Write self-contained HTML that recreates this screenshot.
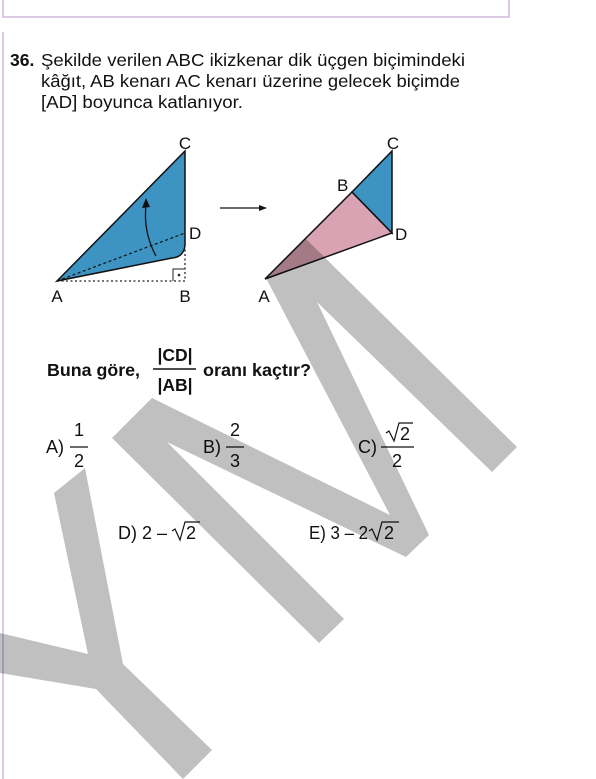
<!DOCTYPE html>
<html><head><meta charset="utf-8"><style>
html,body{margin:0;padding:0;background:#fff;}
body{width:596px;height:779px;overflow:hidden;position:relative;font-family:"Liberation Sans",sans-serif;}
svg{position:absolute;left:0;top:0;display:block;}
text{font-family:"Liberation Sans",sans-serif;fill:#111;}
</style></head><body>
<svg width="596" height="779" viewBox="0 0 596 779">
  <rect x="3" y="-10" width="506" height="27" fill="none" stroke="#dccbe4" stroke-width="2"/>
  <line x1="3" y1="32" x2="3" y2="779" stroke="#dccbe4" stroke-width="2"/>

  <g font-size="17.5">
    <text x="10" y="66" font-weight="bold">36.</text>
    <text x="41" y="66" textLength="424" lengthAdjust="spacingAndGlyphs">Şekilde verilen ABC ikizkenar dik üçgen biçimindeki</text>
    <text x="41" y="87" textLength="419" lengthAdjust="spacingAndGlyphs">kâğıt, AB kenarı AC kenarı üzerine gelecek biçimde</text>
    <text x="41" y="108" textLength="202" lengthAdjust="spacingAndGlyphs">[AD] boyunca katlanıyor.</text>
  </g>

  <g>
    <polyline points="57,281 185,281 185,247" fill="none" stroke="#222" stroke-width="1.3" stroke-dasharray="2,2.5"/>
    <polyline points="173,281 173,269 185,269" fill="none" stroke="#222" stroke-width="1"/>
    <circle cx="179" cy="275" r="1.3" fill="#222"/>
    <polygon points="57,281 163,256 172,258" fill="#d9a3b3" stroke="#111" stroke-width="1"/>
    <path d="M57,281 L185,151 L185,245 Q184,257 172,258 L57,281 Z" fill="#3d93c2" stroke="#111" stroke-width="1.5"/>
    <line x1="57" y1="281" x2="185" y2="233" stroke="#111" stroke-width="1.2" stroke-dasharray="3,2.5"/>
    <path d="M156,256 Q143,232 146,205" fill="none" stroke="#111" stroke-width="1.3"/>
    <polygon points="146,198 142,208 150,207" fill="#111"/>
    <text x="185" y="149" font-size="17" text-anchor="middle">C</text>
    <text x="189" y="239" font-size="17">D</text>
    <text x="57" y="302" font-size="17" text-anchor="middle">A</text>
    <text x="185" y="302" font-size="17" text-anchor="middle">B</text>
  </g>

  <g>
    <line x1="220" y1="208" x2="262" y2="208" stroke="#111" stroke-width="1.2"/>
    <polygon points="267,208 259,205 259,211" fill="#111"/>
  </g>

  <g>
    <polygon points="265,279 352,192 392,233" fill="#d9a3b3" stroke="#111" stroke-width="1.5"/>
    <polygon points="352,192 392,151 392,233" fill="#3d93c2" stroke="#111" stroke-width="1.5"/>
    <text x="393" y="149" font-size="17" text-anchor="middle">C</text>
    <text x="337" y="191" font-size="17">B</text>
    <text x="395" y="240" font-size="17">D</text>
    <text x="264" y="302" font-size="17" text-anchor="middle">A</text>
  </g>

  <g>
    <text x="47" y="376" font-size="17.5" font-weight="bold" textLength="93" lengthAdjust="spacingAndGlyphs">Buna göre,</text>
    <text x="175" y="361" font-size="17.5" font-weight="bold" text-anchor="middle">|CD|</text>
    <line x1="153" y1="369" x2="196" y2="369" stroke="#111" stroke-width="1.5"/>
    <text x="175" y="391" font-size="17.5" font-weight="bold" text-anchor="middle">|AB|</text>
    <text x="203" y="376" font-size="17.5" font-weight="bold" textLength="108" lengthAdjust="spacingAndGlyphs">oranı kaçtır?</text>
  </g>

  <g font-size="18">
    <g>
      <text x="46" y="453">A)</text>
      <text x="79" y="436" text-anchor="middle">1</text>
      <line x1="70" y1="447" x2="88" y2="447" stroke="#111" stroke-width="1.3"/>
      <text x="79" y="467" text-anchor="middle">2</text>
    </g>
    <g>
      <text x="203" y="453">B)</text>
      <text x="235" y="436" text-anchor="middle">2</text>
      <line x1="226" y1="447" x2="244" y2="447" stroke="#111" stroke-width="1.3"/>
      <text x="235" y="467" text-anchor="middle">3</text>
    </g>
    <g>
      <text x="358" y="453">C)</text>
      <path d="M386,433 L389,431 L394,441 L399,423 L413,423" fill="none" stroke="#111" stroke-width="1.2"/>
      <text x="400" y="440">2</text>
      <line x1="381" y1="447" x2="414" y2="447" stroke="#111" stroke-width="1.3"/>
      <text x="397" y="467" text-anchor="middle">2</text>
    </g>
    <g>
      <text x="118" y="539">D) 2 –</text>
      <path d="M172,531 L175,529 L180,540 L185,522 L200,522" fill="none" stroke="#111" stroke-width="1.2"/>
      <text x="186" y="539">2</text>
    </g>
    <g>
      <text x="309" y="539" textLength="59" lengthAdjust="spacingAndGlyphs">E) 3 – 2</text>
      <path d="M369,531 L372,529 L377,540 L382,522 L399,522" fill="none" stroke="#111" stroke-width="1.2"/>
      <text x="384" y="539">2</text>
    </g>
  </g>

  <g style="mix-blend-mode:multiply" fill="#c0c0c0">
    <polygon points="54,493 85,468 123,664 212,750 183,779 96,689 0,673 0,633 88,654"/>
    <polygon points="112,438 152,398 390,515 266,278 306,239 517,447 492,472 317,302 429,535 406,557 167,442 344,619 319,643"/>
  </g>
</svg>
</body></html>
